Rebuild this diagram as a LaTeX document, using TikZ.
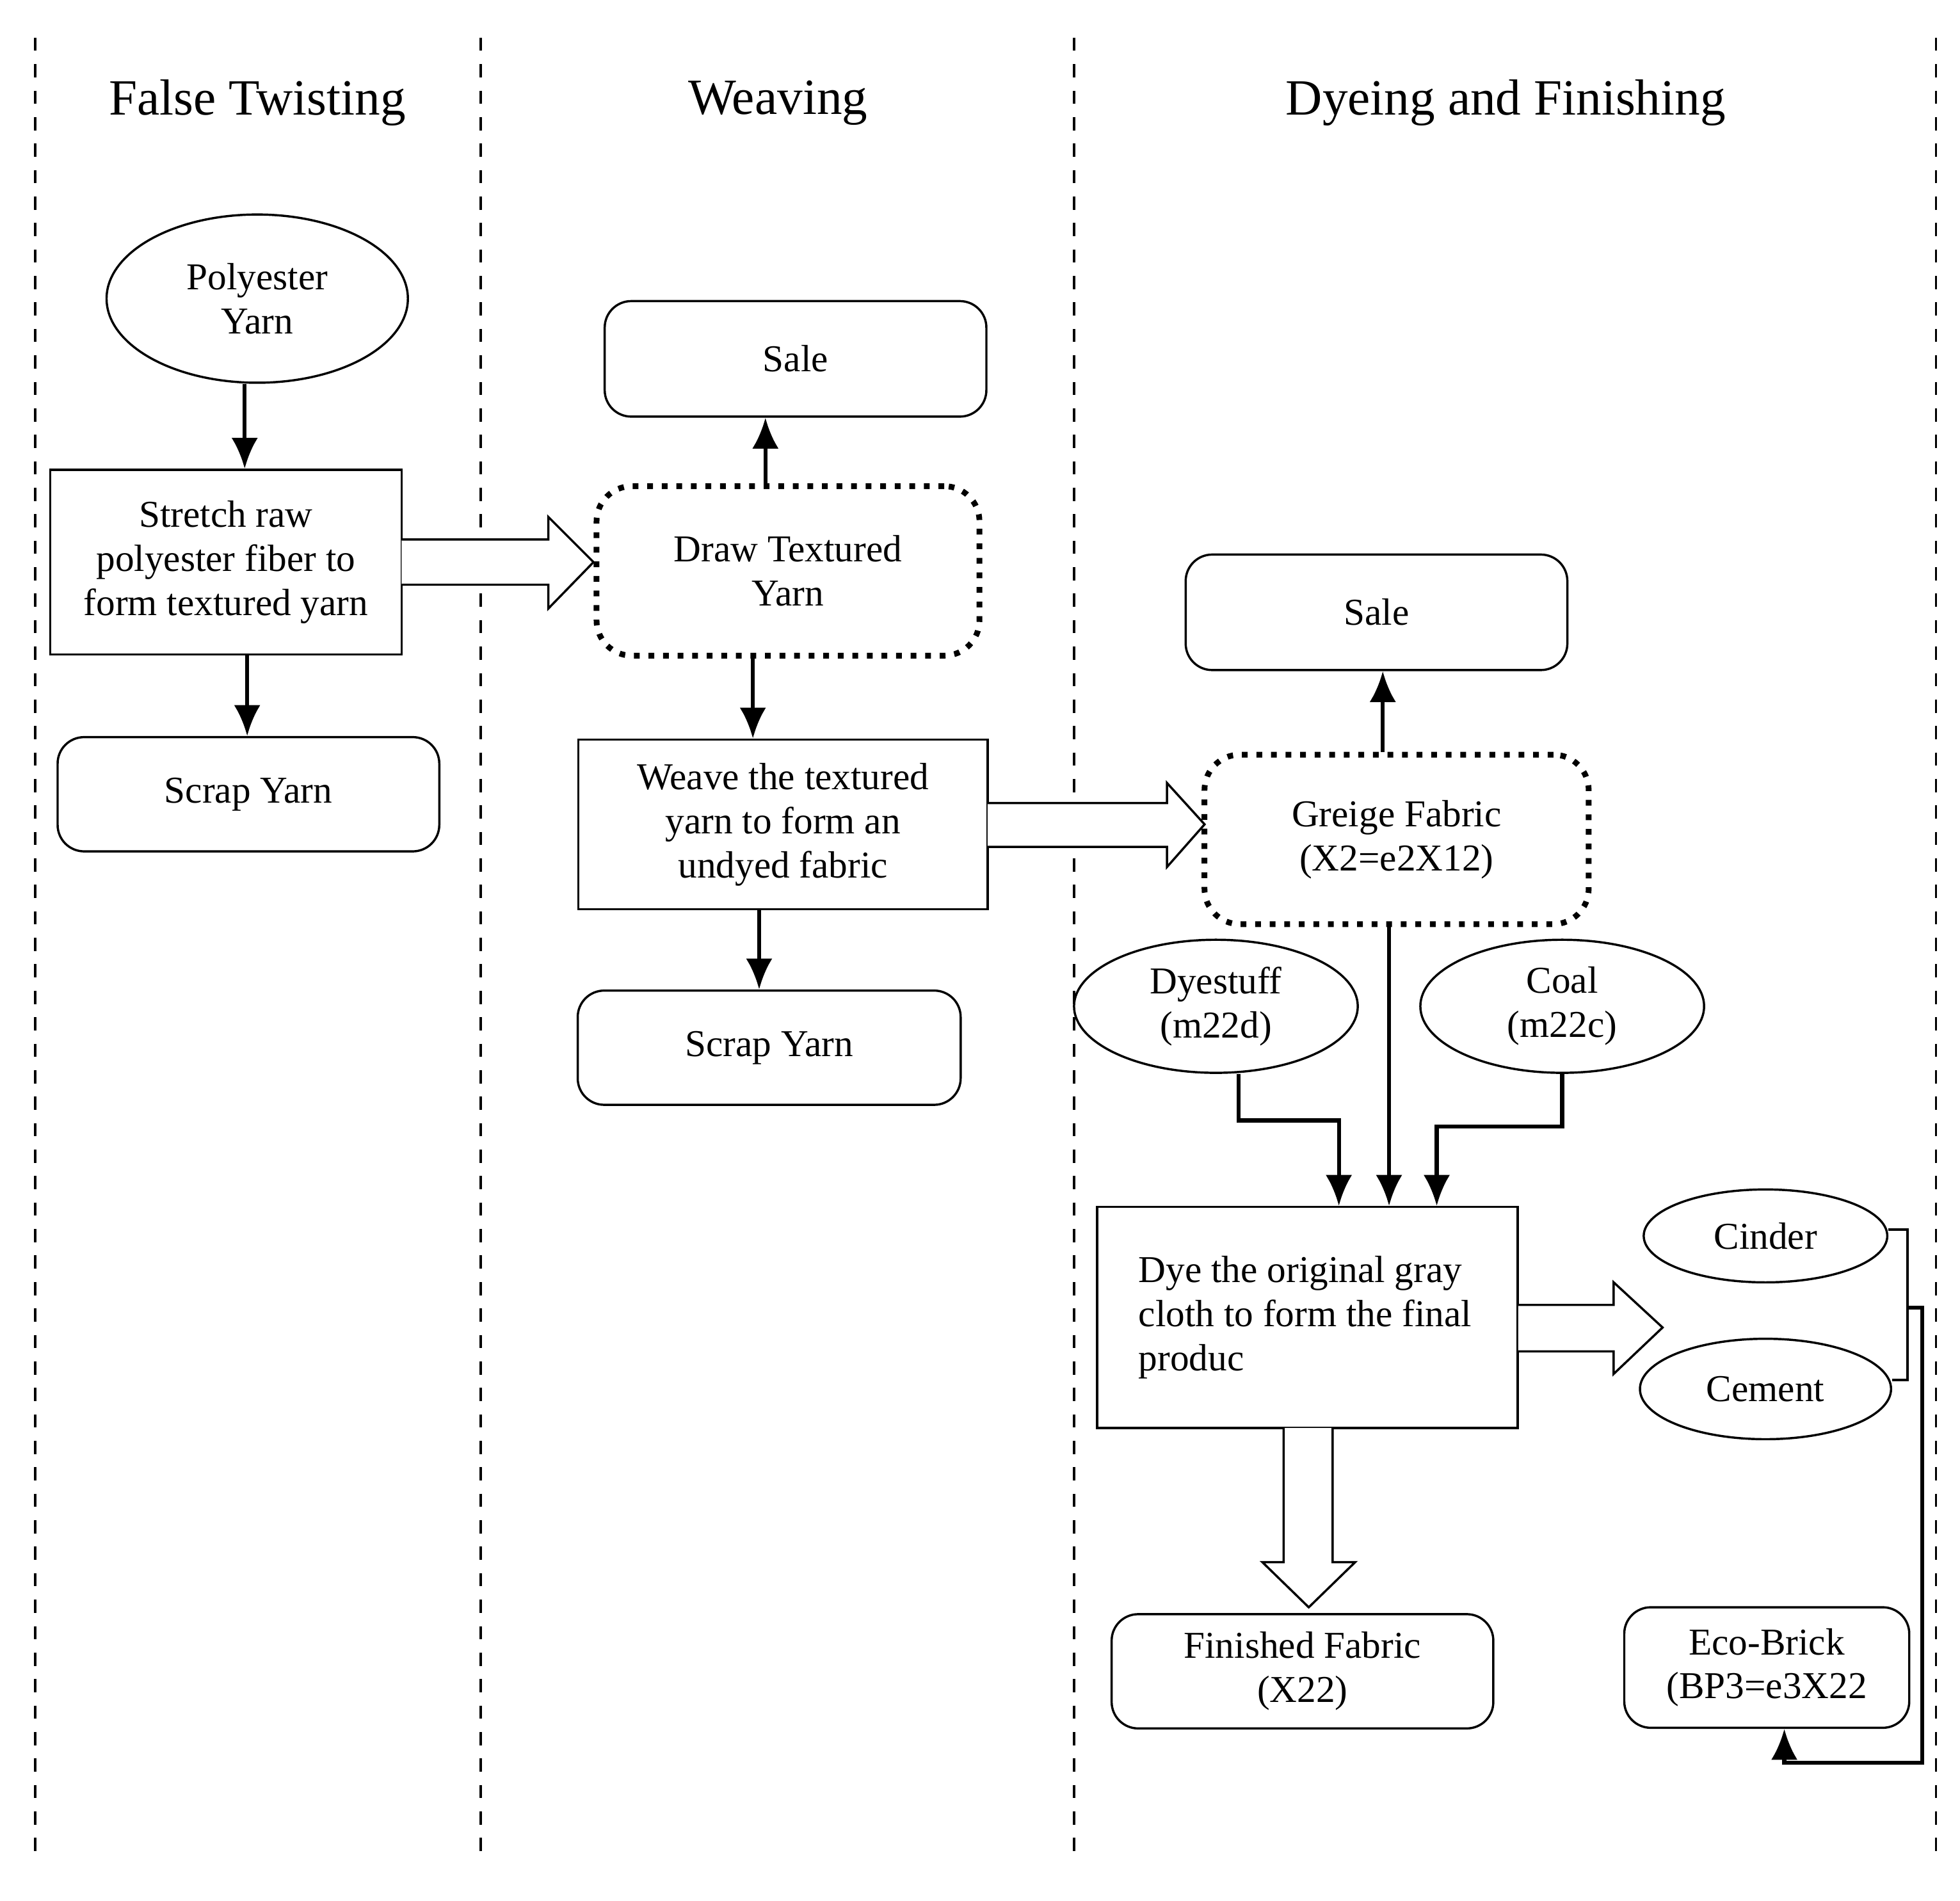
\documentclass[tikz,border=0pt]{standalone}
\usepackage{fontspec}
\setmainfont{Liberation Serif}
\usetikzlibrary{shapes.geometric,arrows.meta}
\begin{document}
\begin{tikzpicture}[x=0.01cm,y=-0.01cm,
  txt/.style={font=\fontsize{8.6}{10}\selectfont,align=center},
  box/.style={draw,line width=0.5pt,txt,inner sep=0pt},
  rbox/.style={box,rounded corners=6pt},
  dbox/.style={draw,line width=1.3pt,dotted,rounded corners=8pt,txt,inner sep=0pt},
  ell/.style={draw,line width=0.5pt,ellipse,txt,inner sep=0pt},
  arr/.style={line width=0.9pt,-{Latex[length=7pt,width=6pt]}},
  ln/.style={line width=0.6pt},
  blk/.style={draw,line width=0.5pt,fill=white},
  lane/.style={dashed,line width=0.5pt},
  ttl/.style={font=\fontsize{11.5}{13}\selectfont}]
\useasboundingbox (0,0) rectangle (1562,1515);
\foreach \x in {28,383,856,1543} \draw[lane] (\x,30) -- (\x,1485);
\node[ttl] (t1) at (205,82) {False Twisting};
\node[ttl] (t2) at (620,82) {Weaving};
\node[ttl] (t3) at (1200,82) {Dyeing and Finishing};
% nodes
\node[ell,minimum width=2.40cm,minimum height=1.34cm] (py) at (205,238) {Polyester\\Yarn};
\node[box,minimum width=2.80cm,minimum height=1.47cm] (st) at (180,448) {Stretch raw\\polyester fiber to\\form textured yarn};
\node[rbox,minimum width=3.04cm,minimum height=0.91cm] (sc1) at (198,633) {Scrap Yarn};
\node[rbox,minimum width=3.04cm,minimum height=0.92cm] (sa1) at (634,286) {Sale};
\node[dbox,minimum width=3.05cm,minimum height=1.35cm] (dt) at (628,455) {Draw Textured\\Yarn};
\node[box,minimum width=3.26cm,minimum height=1.35cm] (wv) at (624,657) {Weave the textured\\yarn to form an\\undyed fabric};
\node[rbox,minimum width=3.05cm,minimum height=0.91cm] (sc2) at (613,835) {Scrap Yarn};
\node[rbox,minimum width=3.04cm,minimum height=0.92cm] (sa2) at (1097,488) {Sale};
\node[dbox,minimum width=3.06cm,minimum height=1.35cm] (gf) at (1113,669) {Greige Fabric\\(X2=e2X12)};
\node[ell,minimum width=2.26cm,minimum height=1.06cm] (ds) at (969,802) {Dyestuff\\(m22d)};
\node[ell,minimum width=2.26cm,minimum height=1.06cm] (co) at (1245,802) {Coal\\(m22c)};
\node[box,minimum width=3.35cm,minimum height=1.76cm] (dy) at (1042,1050) {};
\node[txt,align=left,anchor=west] (dyt) at (895,1050) {Dye the original gray\\cloth to form the final\\produc};
\node[ell,minimum width=1.94cm,minimum height=0.74cm] (ci) at (1407,985) {Cinder};
\node[ell,minimum width=2.00cm,minimum height=0.80cm] (ce) at (1407,1107) {Cement};
\node[rbox,minimum width=3.04cm,minimum height=0.91cm] (ff) at (1038,1332) {Finished Fabric\\(X22)};
\node[rbox,minimum width=2.27cm,minimum height=0.96cm] (eb) at (1408,1329) {Eco-Brick\\(BP3=e3X22};
% arrows
\draw[arr] (py.south -| 195,0) -- (st.north -| 195,0);
\draw[arr] (st.south -| 197,0) -- (sc1.north -| 197,0);
\draw[arr] (dt.north -| 610,0) -- (sa1.south -| 610,0);
\draw[arr] (dt.south -| 600,0) -- (wv.north -| 600,0);
\draw[arr] (wv.south -| 605,0) -- (sc2.north -| 605,0);
\draw[arr] (gf.north -| 1102,0) -- (sa2.south -| 1102,0);
\draw[arr] (gf.south -| 1107,0) -- (dy.north -| 1107,0);
\draw[arr] (ds.south -| 987,0) -- (987,893) -- (1067,893) -- (dy.north -| 1067,0);
\draw[arr] (co.south -| 1245,0) -- (1245,898) -- (1145,898) -- (dy.north -| 1145,0);
\coordinate (b1) at (1520,980);
\coordinate (b2) at (1520,1100);
\draw[ln] (ci.east |- b1) -- (b1) -- (b2) -- (ce.east |- b2);
\draw[arr] (1520,1042) -- (1532,1042) -- (1532,1405) -- (1422,1405) -- (eb.south -| 1422,0);
% block arrows
\draw[blk] (320,430) -- (437,430) -- (437,412) -- (473,448) -- (437,485) -- (437,466) -- (320,466);
\draw[blk] (787,640) -- (930,640) -- (930,624) -- (960,657) -- (930,691) -- (930,675) -- (787,675);
\draw[blk] (1210,1040) -- (1286,1040) -- (1286,1022) -- (1325,1058) -- (1286,1095) -- (1286,1077) -- (1210,1077);
\draw[blk] (1023,1138) -- (1023,1245) -- (1006,1245) -- (1043,1281) -- (1080,1245) -- (1062,1245) -- (1062,1138);
\end{tikzpicture}
\end{document}
